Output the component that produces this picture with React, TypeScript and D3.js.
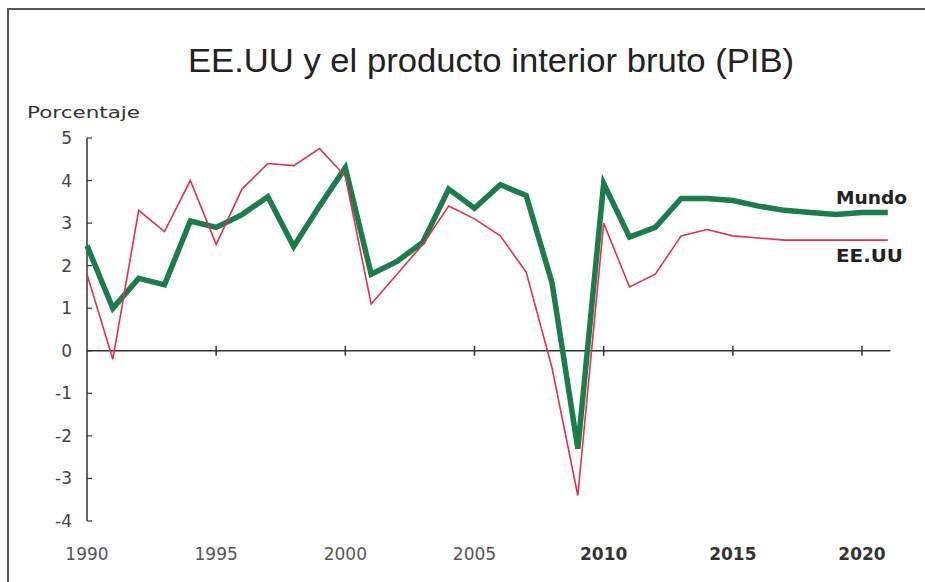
import React, { useEffect, useRef } from 'react';
import * as d3 from 'd3';

const years = d3.range(1990, 2022);
const usa = [
  1.8, -0.2, 3.3, 2.8, 4.0, 2.5, 3.8, 4.4, 4.35, 4.75,
  4.1, 1.1, 1.8, 2.5, 3.4, 3.1, 2.7, 1.85, -0.4, -3.4,
  3.0, 1.5, 1.8, 2.7, 2.85, 2.7, 2.65, 2.6, 2.6, 2.6,
  2.6, 2.6,
];
const mundo = [
  2.47, 1.0, 1.7, 1.55, 3.05, 2.9, 3.2, 3.62, 2.45, 3.4,
  4.3, 1.8, 2.1, 2.55, 3.8, 3.35, 3.9, 3.65, 1.6, -2.3,
  3.93, 2.67, 2.9, 3.58, 3.58, 3.53, 3.4, 3.3, 3.25, 3.2,
  3.25, 3.25,
];
const yTicks = [-4, -3, -2, -1, 0, 1, 2, 3, 4, 5];
const xTicks = [1990, 1995, 2000, 2005, 2010, 2015, 2020];

const W = 925;
const H = 582;

const App = () => {
  const svgRef = useRef<SVGSVGElement>(null);

  useEffect(() => {
    const svg = d3.select(svgRef.current);
    svg.selectAll('*').remove();

    const x = d3.scaleLinear().domain([1990, 2020]).range([87, 862]);
    const y = d3.scaleLinear().domain([-4, 5]).range([521, 138]);
    const axisColor = '#333';

    // frame (top and left only)
    svg.append('line').attr('x1', 7).attr('x2', W).attr('y1', 9).attr('y2', 9)
      .attr('stroke', '#555').attr('stroke-width', 2);
    svg.append('line').attr('x1', 8).attr('x2', 8).attr('y1', 9).attr('y2', H)
      .attr('stroke', '#555').attr('stroke-width', 2);

    svg.append('text')
      .attr('x', 491).attr('y', 72)
      .attr('text-anchor', 'middle')
      .attr('font-family', 'Liberation Sans, Arial, sans-serif')
      .attr('font-size', 34)
      .attr('fill', '#222')
      .attr('textLength', 606)
      .attr('lengthAdjust', 'spacingAndGlyphs')
      .text('EE.UU y el producto interior bruto (PIB)');

    svg.append('text')
      .attr('x', 27).attr('y', 118)
      .attr('font-family', 'DejaVu Sans, sans-serif')
      .attr('font-size', 16)
      .attr('fill', '#333')
      .attr('textLength', 113)
      .attr('lengthAdjust', 'spacingAndGlyphs')
      .text('Porcentaje');

    // y axis
    svg.append('line')
      .attr('x1', x(1990)).attr('x2', x(1990))
      .attr('y1', y(5)).attr('y2', y(-4))
      .attr('stroke', axisColor).attr('stroke-width', 1.5);
    const yg = svg.append('g');
    yg.selectAll('line').data(yTicks).enter().append('line')
      .attr('x1', x(1990)).attr('x2', x(1990) + 5)
      .attr('y1', (d) => y(d)).attr('y2', (d) => y(d))
      .attr('stroke', axisColor).attr('stroke-width', 1.2);
    yg.selectAll('text').data(yTicks).enter().append('text')
      .attr('x', 72).attr('y', (d) => y(d) + 6)
      .attr('text-anchor', 'end')
      .attr('font-family', 'DejaVu Sans, sans-serif')
      .attr('font-size', 17)
      .attr('fill', '#444')
      .text((d) => String(d));

    // x axis at zero
    svg.append('line')
      .attr('x1', x(1990)).attr('x2', x(2021.1))
      .attr('y1', y(0)).attr('y2', y(0))
      .attr('stroke', axisColor).attr('stroke-width', 1.6);
    const xg = svg.append('g');
    xg.selectAll('line').data(xTicks.slice(1)).enter().append('line')
      .attr('x1', (d) => x(d)).attr('x2', (d) => x(d))
      .attr('y1', y(0) - 5).attr('y2', y(0) + 5)
      .attr('stroke', axisColor).attr('stroke-width', 1.5);
    xg.selectAll('text').data(xTicks).enter().append('text')
      .attr('x', (d) => x(d)).attr('y', 560)
      .attr('text-anchor', 'middle')
      .attr('font-family', 'DejaVu Sans, sans-serif')
      .attr('font-size', 17)
      .attr('font-weight', (d) => (d >= 2010 ? 'bold' : 'normal'))
      .attr('fill', (d) => (d >= 2010 ? '#333' : '#555'))
      .text((d) => String(d));

    const line = d3.line<number>()
      .x((_, i) => x(years[i]))
      .y((d) => y(d));

    svg.append('path')
      .attr('d', line(mundo))
      .attr('fill', 'none')
      .attr('stroke', '#1b7c4c')
      .attr('stroke-width', 5.5)
      .attr('stroke-linejoin', 'miter');

    svg.append('path')
      .attr('d', line(usa))
      .attr('fill', 'none')
      .attr('stroke', '#e3314b')
      .attr('stroke-width', 1.6)
      .attr('stroke-linejoin', 'miter');

    svg.append('text')
      .attr('x', 836).attr('y', 204)
      .attr('font-family', 'DejaVu Sans, sans-serif')
      .attr('font-size', 17).attr('font-weight', 'bold')
      .attr('fill', '#222')
      .attr('textLength', 71)
      .attr('lengthAdjust', 'spacingAndGlyphs')
      .text('Mundo');
    svg.append('text')
      .attr('x', 836).attr('y', 262)
      .attr('font-family', 'DejaVu Sans, sans-serif')
      .attr('font-size', 17).attr('font-weight', 'bold')
      .attr('fill', '#222')
      .attr('textLength', 67)
      .attr('lengthAdjust', 'spacingAndGlyphs')
      .text('EE.UU');
  }, []);

  return (
    <svg
      ref={svgRef}
      width={W}
      height={H}
      style={{ position: 'absolute', left: 0, top: 0, background: '#fff' }}
    ></svg>
  );
};

export default App;
